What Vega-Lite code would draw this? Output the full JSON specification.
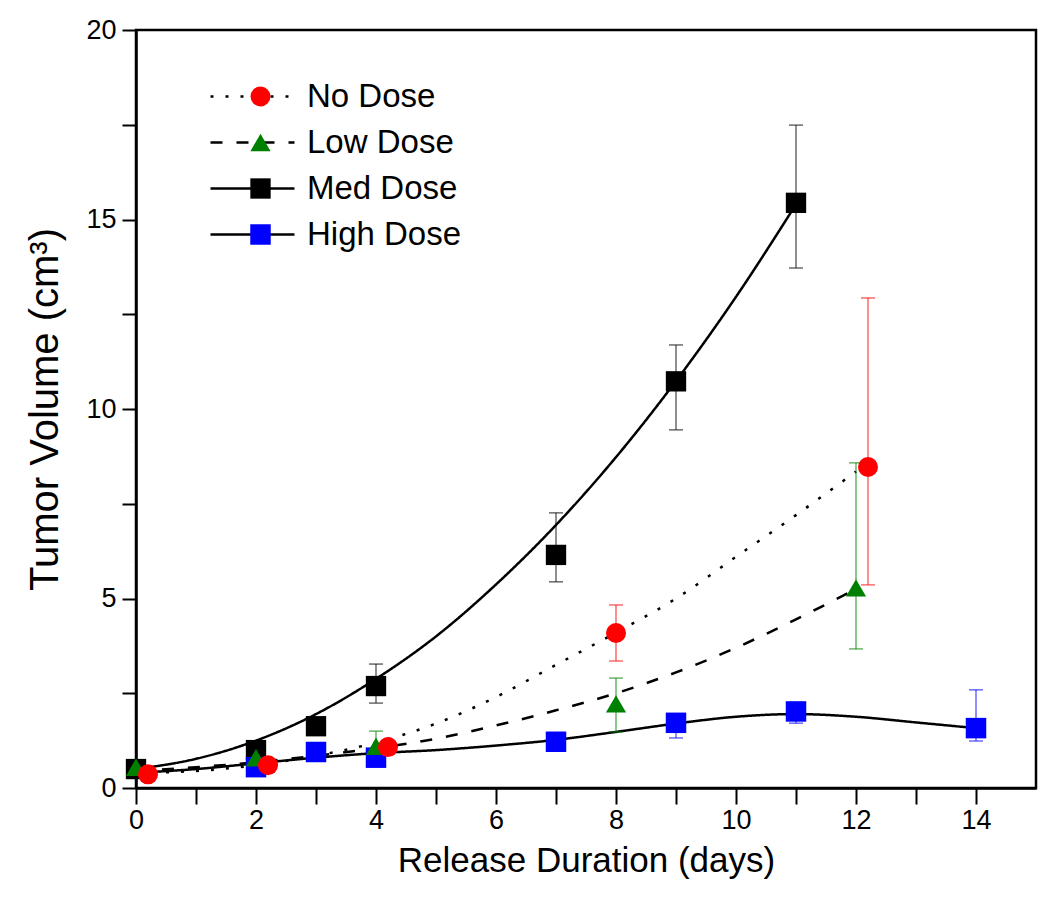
{
  "$schema": "https://vega.github.io/schema/vega-lite/v6.json",
  "width": 900,
  "height": 758,
  "autosize": {"type": "none"},
  "padding": {"left": 136, "top": 30, "right": 14, "bottom": 124},
  "background": "white",
  "config": {
    "font": "Liberation Sans",
    "view": {"stroke": "black", "strokeWidth": 2.5},
    "axis": {
      "grid": false,
      "domainColor": "black",
      "domainWidth": 2.5,
      "tickColor": "black",
      "tickWidth": 2,
      "labelColor": "black",
      "titleColor": "black",
      "labelFont": "Liberation Sans",
      "titleFont": "Liberation Sans",
      "titleFontWeight": "normal"
    },
    "legend": {"labelFont": "Liberation Sans", "labelColor": "black"}
  },
  "datasets": {
    "pts": [
      {"series": "Med Dose", "x": 0, "y": 0.5},
      {"series": "Med Dose", "x": 2, "y": 1.0},
      {"series": "Med Dose", "x": 3, "y": 1.63},
      {"series": "Med Dose", "x": 4, "y": 2.69},
      {"series": "Med Dose", "x": 7, "y": 6.15},
      {"series": "Med Dose", "x": 9, "y": 10.73},
      {"series": "Med Dose", "x": 11, "y": 15.44},
      {"series": "High Dose", "x": 2, "y": 0.55},
      {"series": "High Dose", "x": 3, "y": 0.95},
      {"series": "High Dose", "x": 4, "y": 0.8},
      {"series": "High Dose", "x": 7, "y": 1.22},
      {"series": "High Dose", "x": 9, "y": 1.72},
      {"series": "High Dose", "x": 11, "y": 2.02},
      {"series": "High Dose", "x": 14, "y": 1.58},
      {"series": "Low Dose", "x": 0, "y": 0.55},
      {"series": "Low Dose", "x": 2, "y": 0.8},
      {"series": "Low Dose", "x": 4, "y": 1.1},
      {"series": "Low Dose", "x": 8, "y": 2.22},
      {"series": "Low Dose", "x": 12, "y": 5.28},
      {"series": "No Dose", "x": 0.2, "y": 0.36},
      {"series": "No Dose", "x": 2.2, "y": 0.6},
      {"series": "No Dose", "x": 4.2, "y": 1.08},
      {"series": "No Dose", "x": 8, "y": 4.09},
      {"series": "No Dose", "x": 12.2, "y": 8.47}
    ],
    "err": [
      {"series": "No Dose", "x": 8, "lo": 3.35, "hi": 4.83},
      {"series": "No Dose", "x": 12.2, "lo": 5.36, "hi": 12.93},
      {"series": "Low Dose", "x": 4, "lo": 0.8, "hi": 1.5},
      {"series": "Low Dose", "x": 8, "lo": 1.48, "hi": 2.9},
      {"series": "Low Dose", "x": 12, "lo": 3.67, "hi": 8.58},
      {"series": "Med Dose", "x": 4, "lo": 2.24, "hi": 3.27},
      {"series": "Med Dose", "x": 7, "lo": 5.44, "hi": 7.26},
      {"series": "Med Dose", "x": 9, "lo": 9.45, "hi": 11.69},
      {"series": "Med Dose", "x": 11, "lo": 13.72, "hi": 17.49},
      {"series": "High Dose", "x": 9, "lo": 1.32, "hi": 1.9},
      {"series": "High Dose", "x": 11, "lo": 1.71, "hi": 2.2},
      {"series": "High Dose", "x": 14, "lo": 1.24, "hi": 2.59}
    ],
    "fits": [
      {"fit": "No Dose fit", "x": 0, "y": 0.4},
      {"fit": "No Dose fit", "x": 1, "y": 0.45},
      {"fit": "No Dose fit", "x": 2, "y": 0.6},
      {"fit": "No Dose fit", "x": 3, "y": 0.85},
      {"fit": "No Dose fit", "x": 4, "y": 1.2},
      {"fit": "No Dose fit", "x": 5, "y": 1.7},
      {"fit": "No Dose fit", "x": 6, "y": 2.4},
      {"fit": "No Dose fit", "x": 7, "y": 3.25},
      {"fit": "No Dose fit", "x": 8, "y": 4.1},
      {"fit": "No Dose fit", "x": 9, "y": 5.0},
      {"fit": "No Dose fit", "x": 10, "y": 6.1},
      {"fit": "No Dose fit", "x": 11, "y": 7.2},
      {"fit": "No Dose fit", "x": 12, "y": 8.35},
      {"fit": "Low Dose fit", "x": 0, "y": 0.45},
      {"fit": "Low Dose fit", "x": 1, "y": 0.55},
      {"fit": "Low Dose fit", "x": 2, "y": 0.68},
      {"fit": "Low Dose fit", "x": 3, "y": 0.85},
      {"fit": "Low Dose fit", "x": 4, "y": 1.05},
      {"fit": "Low Dose fit", "x": 5, "y": 1.3},
      {"fit": "Low Dose fit", "x": 6, "y": 1.65},
      {"fit": "Low Dose fit", "x": 7, "y": 2.05},
      {"fit": "Low Dose fit", "x": 8, "y": 2.5},
      {"fit": "Low Dose fit", "x": 9, "y": 3.05},
      {"fit": "Low Dose fit", "x": 10, "y": 3.7},
      {"fit": "Low Dose fit", "x": 11, "y": 4.45},
      {"fit": "Low Dose fit", "x": 12, "y": 5.25},
      {"fit": "Med Dose fit", "x": 0, "y": 0.5},
      {"fit": "Med Dose fit", "x": 1, "y": 0.77},
      {"fit": "Med Dose fit", "x": 2, "y": 1.25},
      {"fit": "Med Dose fit", "x": 3, "y": 1.95},
      {"fit": "Med Dose fit", "x": 4, "y": 2.88},
      {"fit": "Med Dose fit", "x": 5, "y": 4.0},
      {"fit": "Med Dose fit", "x": 6, "y": 5.37},
      {"fit": "Med Dose fit", "x": 7, "y": 6.94},
      {"fit": "Med Dose fit", "x": 8, "y": 8.73},
      {"fit": "Med Dose fit", "x": 9, "y": 10.74},
      {"fit": "Med Dose fit", "x": 10, "y": 12.96},
      {"fit": "Med Dose fit", "x": 11, "y": 15.4},
      {"fit": "High Dose fit", "x": 0, "y": 0.4},
      {"fit": "High Dose fit", "x": 1, "y": 0.5},
      {"fit": "High Dose fit", "x": 2, "y": 0.65},
      {"fit": "High Dose fit", "x": 3, "y": 0.8},
      {"fit": "High Dose fit", "x": 4, "y": 0.92},
      {"fit": "High Dose fit", "x": 5, "y": 1.0},
      {"fit": "High Dose fit", "x": 6, "y": 1.12},
      {"fit": "High Dose fit", "x": 7, "y": 1.27},
      {"fit": "High Dose fit", "x": 8, "y": 1.48},
      {"fit": "High Dose fit", "x": 9, "y": 1.7},
      {"fit": "High Dose fit", "x": 10, "y": 1.88},
      {"fit": "High Dose fit", "x": 11, "y": 1.95},
      {"fit": "High Dose fit", "x": 12, "y": 1.88},
      {"fit": "High Dose fit", "x": 13, "y": 1.73},
      {"fit": "High Dose fit", "x": 14, "y": 1.58}
    ]
  },
  "layer": [
    {
      "data": {"name": "fits"},
      "mark": {"type": "line", "interpolate": "monotone", "strokeWidth": 2.5, "color": "black", "strokeCap": "butt"},
      "encoding": {
        "x": {
          "field": "x", "type": "quantitative",
          "scale": {"domain": [0, 15], "nice": false, "zero": false},
          "axis": {
            "orient": "bottom",
            "values": [0, 1, 2, 3, 4, 5, 6, 7, 8, 9, 10, 11, 12, 13, 14],
            "format": "d",
            "labelExpr": "datum.value % 2 === 0 ? datum.label : ''",
            "tickSize": 16,
            "encode": {"ticks": {"update": {"y2": {"signal": "datum.value % 2 === 0 ? 16 : 9"}}}},
            "labelFontSize": 27,
            "labelPadding": 3,
            "labelFlush": false,
            "labelOverlap": false,
            "title": "Release Duration (days)",
            "titleFontSize": 35,
            "titlePadding": 10
          }
        },
        "y": {
          "field": "y", "type": "quantitative",
          "scale": {"domain": [0, 20], "nice": false},
          "axis": {
            "orient": "left",
            "values": [0, 2.5, 5, 7.5, 10, 12.5, 15, 17.5, 20],
            "labelExpr": "datum.value % 5 === 0 ? format(datum.value, 'd') : ''",
            "tickSize": 14,
            "encode": {"ticks": {"update": {"x2": {"signal": "datum.value % 5 === 0 ? -14 : -8"}}}},
            "labelFontSize": 27,
            "labelPadding": 6,
            "labelFlush": false,
            "labelOverlap": false,
            "title": "Tumor Volume (cm³)",
            "titleFontSize": 40,
            "titlePadding": 20
          }
        },
        "strokeDash": {
          "field": "fit", "type": "nominal",
          "scale": {
            "domain": ["No Dose fit", "Low Dose fit", "Med Dose fit", "High Dose fit"],
            "range": [[3, 12], [12, 14], [1, 0], [1, 0]]
          },
          "legend": {
            "orient": "none", "legendX": 100, "legendY": 50, "title": null,
            "symbolType": "M-4,0L4,0", "symbolSize": 441, "symbolStrokeColor": "black",
            "symbolStrokeWidth": 2.5, "labelFontSize": 33, "labelExpr": "''",
            "rowPadding": 12, "padding": 0, "zindex": 1
          }
        }
      }
    },
    {
      "data": {"name": "err"},
      "mark": {"type": "rule", "strokeWidth": 1.6, "opacity": 0.55},
      "encoding": {
        "x": {"field": "x", "type": "quantitative"},
        "y": {"field": "lo", "type": "quantitative"},
        "y2": {"field": "hi"},
        "stroke": {
          "field": "series", "type": "nominal",
          "scale": {"range": ["#0000ff", "#008000", "#000000", "#ff0000"]},
          "legend": null
        }
      }
    },
    {
      "data": {"name": "err"},
      "mark": {"type": "tick", "orient": "horizontal", "size": 14, "thickness": 1.6, "opacity": 0.55},
      "encoding": {
        "x": {"field": "x", "type": "quantitative"},
        "y": {"field": "lo", "type": "quantitative"},
        "fill": {
          "field": "series", "type": "nominal",
          "scale": {"range": ["#0000ff", "#008000", "#000000", "#ff0000"]},
          "legend": null
        }
      }
    },
    {
      "data": {"name": "err"},
      "mark": {"type": "tick", "orient": "horizontal", "size": 14, "thickness": 1.6, "opacity": 0.55},
      "encoding": {
        "x": {"field": "x", "type": "quantitative"},
        "y": {"field": "hi", "type": "quantitative"},
        "fill": {
          "field": "series", "type": "nominal",
          "scale": {"range": ["#0000ff", "#008000", "#000000", "#ff0000"]},
          "legend": null
        }
      }
    },
    {
      "data": {"name": "pts"},
      "mark": {"type": "point", "filled": true, "opacity": 1},
      "encoding": {
        "x": {"field": "x", "type": "quantitative"},
        "y": {"field": "y", "type": "quantitative"},
        "color": {
          "field": "series", "type": "nominal",
          "scale": {"domain": ["No Dose", "Low Dose", "Med Dose", "High Dose"], "range": ["#ff0000", "#008000", "#000000", "#0000ff"]},
          "legend": {
            "orient": "none", "legendX": 108, "legendY": 50, "title": null,
            "labelFontSize": 33, "labelOffset": 30, "rowPadding": 12, "padding": 0,
            "symbolStrokeWidth": 0, "symbolOpacity": 1, "zindex": 2
          }
        },
        "shape": {
          "field": "series", "type": "nominal",
          "scale": {"domain": ["No Dose", "Low Dose", "Med Dose", "High Dose"], "range": ["circle", "triangle-up", "square", "square"]}
        },
        "size": {
          "field": "series", "type": "nominal",
          "scale": {"domain": ["No Dose", "Low Dose", "Med Dose", "High Dose"], "range": [400, 420, 270, 270]}
        }
      }
    }
  ]
}
